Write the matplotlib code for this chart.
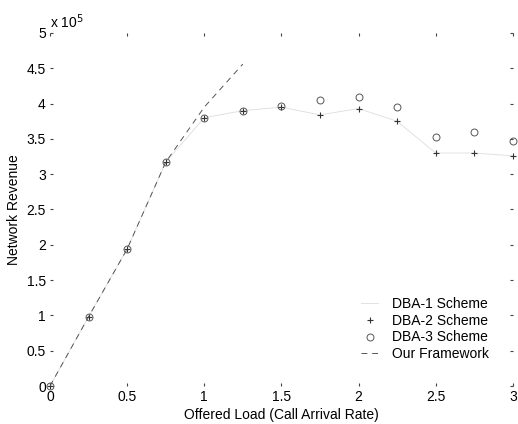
import matplotlib
matplotlib.use("Agg")
import matplotlib.pyplot as plt
from matplotlib.ticker import FuncFormatter

plt.rcParams['font.family'] = ['Liberation Sans', 'DejaVu Sans']

# offered load (call arrival rate)
load = [0, 0.25, 0.5, 0.75, 1.0, 1.25, 1.5, 1.75, 2.0, 2.25, 2.5, 2.75, 3.0]
# network revenue
dba1 = [0, 0.98e5, 1.94e5, 3.17e5, 3.80e5, 3.90e5, 3.95e5, 3.84e5, 3.93e5, 3.75e5, 3.30e5, 3.30e5, 3.26e5]
dba2 = [0, 0.98e5, 1.94e5, 3.17e5, 3.80e5, 3.90e5, 3.95e5, 3.84e5, 3.93e5, 3.75e5, 3.30e5, 3.30e5, 3.26e5]
dba3 = [0, 0.98e5, 1.94e5, 3.17e5, 3.80e5, 3.90e5, 3.96e5, 4.05e5, 4.10e5, 3.95e5, 3.53e5, 3.60e5, 3.47e5]
fw_load = [0, 0.25, 0.5, 0.75, 1.0, 1.25]
framework = [0, 0.98e5, 1.94e5, 3.17e5, 3.95e5, 4.56e5]

fig = plt.figure(figsize=(5.18, 4.24), dpi=100)
ax = fig.add_axes([0.0965, 0.0896, 0.8935, 0.8326])

ax.plot(load, dba1, color='#dddddd', lw=0.6, label='DBA-1 Scheme')
ax.plot(load, dba2, ls='none', marker='+', ms=5, mew=0.8, color='#333333', label='DBA-2 Scheme',
        clip_on=False)
ax.plot(load, dba3, ls='none', marker='o', ms=5, mew=0.7, mfc='none', color='#555555', label='DBA-3 Scheme',
        clip_on=False)
ax.plot(fw_load, framework, color='#555555', lw=0.7, ls=(0, (6, 5)), label='Our Framework')

ax.set_xlim(0, 3)
ax.set_ylim(0, 5e5)
ax.set_xticks([0, 0.5, 1, 1.5, 2, 2.5, 3])
ax.set_yticks([i * 0.5e5 for i in range(11)])
ax.xaxis.set_major_formatter(FuncFormatter(lambda v, p: '%g' % v))
ax.yaxis.set_major_formatter(FuncFormatter(lambda v, p: '%g' % (v / 1e5)))
ax.tick_params(direction='in', length=2, width=0.8, colors='#444444', labelcolor='black',
               labelsize=10, top=True, right=True, pad=3)
for s in ax.spines.values():
    s.set_visible(False)

ax.text(0.0, 1.005, r'x 10$^5$', transform=ax.transAxes, fontsize=10, va='bottom', ha='left')
ax.set_xlabel('Offered Load (Call Arrival Rate)', fontsize=10, labelpad=3)
ax.set_ylabel('Network Revenue', fontsize=10, labelpad=4)

leg = ax.legend(loc='lower right', bbox_to_anchor=(0.975, 0.035), frameon=False, fontsize=10,
                handlelength=1.2, handletextpad=1.0, labelspacing=0.2)

fig.savefig('out.png', dpi=100)
